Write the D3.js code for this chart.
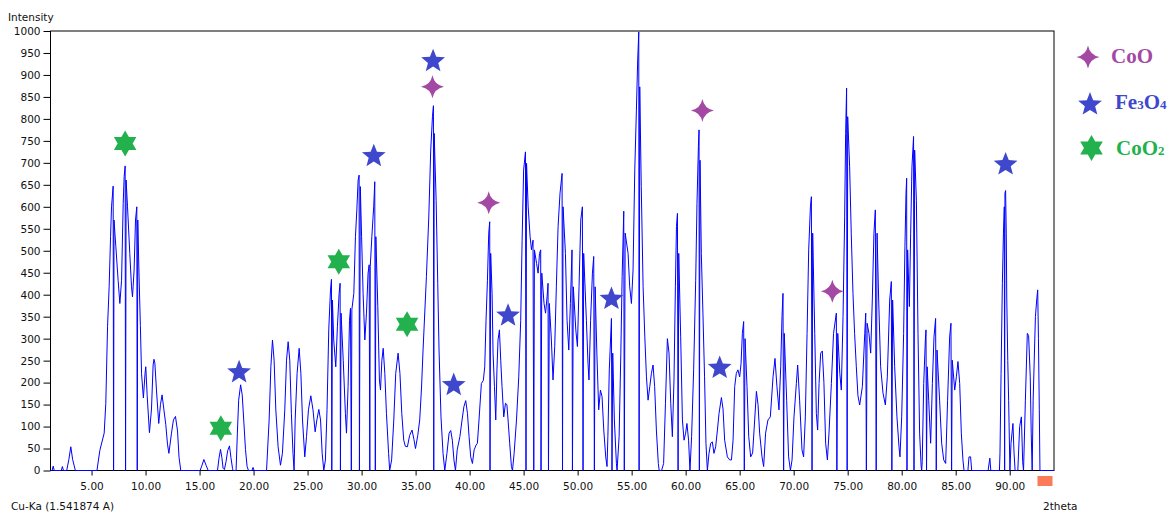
<!DOCTYPE html>
<html>
<head>
<meta charset="utf-8">
<script src="https://cdn.jsdelivr.net/npm/d3@7/dist/d3.min.js"></script>
<style>
  html, body { margin: 0; padding: 0; background: #fff; }
  svg { display: block; }
  .axis text { font-family: "DejaVu Sans", sans-serif; font-size: 10.5px; fill: #111; }
  .axis line { stroke: #000; }
  .lbl { font-family: "DejaVu Sans", sans-serif; font-size: 10.5px; fill: #111; }
  .leg { font-family: "Liberation Serif", "Times New Roman", serif; font-weight: bold; font-size: 21px; }
</style>
</head>
<body>
<svg id="chart" width="1173" height="514"></svg>
<script>
// ---- data (2theta, intensity) ----
const xrdPattern = [
  [1.2,0],[1.35,0],[1.45,10],[1.55,0],[2.2,0],[2.3,9],[2.4,0],[2.7,0],[2.9,25],[3.08,54],[3.25,25],[3.5,0],[5.5,0],
  [5.77,46],[6.17,85],[6.32,153],[6.48,327],[6.63,418],[6.76,532],[6.85,600],[7.0,647],[7.04,0],[7.08,570],[7.25,509],
  [7.46,433],[7.62,380],[7.78,433],[7.93,608],[8.02,669],[8.11,693],[8.15,0],[8.2,661],[8.33,600],[8.54,494],[8.7,418],
  [8.79,395],[8.94,456],[9.07,570],[9.19,600],[9.23,0],[9.28,570],[9.4,440],[9.52,330],[9.63,220],[9.8,165],[9.95,220],
  [10.02,236],[10.15,170],[10.36,86],[10.55,140],[10.7,240],[10.78,253],[10.86,245],[11.01,183],[11.22,107],[11.38,150],
  [11.53,172],[11.69,140],[11.87,105],[12.03,60],[12.16,39],[12.4,85],[12.58,115],[12.77,123],[12.96,90],[13.1,30],
  [13.26,0],[15.05,0],[15.2,10],[15.4,25],[15.6,12],[15.8,0],[16.66,0],[16.8,28],[16.94,48],[17.06,30],[17.18,5],
  [17.3,2],[17.45,20],[17.6,45],[17.77,56],[17.9,30],[18.05,5],[18.1,0],[18.38,0],[18.5,85],[18.62,160],[18.8,195],
  [18.95,172],[19.1,110],[19.25,48],[19.4,9],[19.53,0],[19.85,0],[19.95,7],[20.05,0],[21.2,0],
  [21.44,115],[21.6,236],[21.75,297],[21.9,251],[22.06,138],[22.27,54],[22.49,12],[22.67,39],[22.89,138],[23.05,251],
  [23.2,293],[23.35,251],[23.5,130],[23.65,39],[23.75,0],[23.85,115],[24.03,221],[24.22,278],[24.38,221],[24.53,115],
  [24.74,31],[24.9,77],[25.08,138],[25.3,170],[25.5,138],[25.7,88],[25.86,115],[26.04,139],[26.2,115],[26.35,39],
  [26.5,0],[26.65,24],[26.8,138],[26.96,320],[27.12,411],[27.21,435],[27.24,0],[27.3,388],[27.42,297],[27.61,236],
  [27.76,327],[27.92,403],[28.01,426],[28.04,0],[28.1,358],[28.3,251],[28.5,130],[28.6,85],[28.75,191],[28.88,342],
  [28.97,369],[29.05,0],[29.1,366],[29.28,403],[29.43,532],[29.56,593],[29.68,661],[29.77,672],[29.8,0],[29.88,646],
  [30.0,532],[30.14,403],[30.3,297],[30.45,358],[30.6,449],[30.7,468],[30.76,0],[30.8,464],[30.95,532],[31.12,600],
  [31.22,657],[31.27,0],[31.32,532],[31.5,373],[31.65,206],[31.75,183],[31.88,251],[32.0,278],[32.15,221],[32.3,130],
  [32.5,39],[32.6,0],[32.78,24],[32.98,115],[33.16,221],[33.38,267],[33.55,221],[33.72,130],[33.9,69],[34.05,55],
  [34.24,54],[34.45,80],[34.67,92],[34.85,70],[34.99,50],[35.2,80],[35.38,115],[35.55,190],[35.69,274],[36.0,441],
  [36.22,577],[36.4,729],[36.56,805],[36.65,830],[36.68,0],[36.72,767],[36.9,615],[37.05,426],[37.17,274],[37.35,122],
  [37.54,39],[37.7,0],[37.9,39],[38.1,85],[38.25,91],[38.4,69],[38.55,24],[38.69,0],[38.85,47],[39.1,77],[39.3,115],
  [39.47,145],[39.64,159],[39.8,130],[39.95,77],[40.1,31],[40.26,16],[40.42,47],[40.6,58],[40.72,62],[40.87,115],
  [41.09,198],[41.27,205],[41.4,236],[41.52,342],[41.65,433],[41.77,540],[41.86,566],[41.89,0],[41.95,494],[42.08,403],
  [42.17,267],[42.3,191],[42.42,115],[42.53,229],[42.63,297],[42.76,320],[42.88,251],[43.0,191],[43.16,122],[43.32,153],
  [43.45,150],[43.56,115],[43.71,62],[43.87,9],[43.97,0],[44.12,39],[44.34,115],[44.55,213],[44.73,342],[44.86,524],
  [45.0,684],[45.17,725],[45.22,0],[45.27,699],[45.42,600],[45.6,532],[45.73,502],[45.87,524],[45.94,0],[46.0,502],
  [46.2,471],[46.34,449],[46.47,494],[46.58,502],[46.61,0],[46.68,449],[46.89,380],[47.03,358],[47.17,395],[47.26,426],
  [47.3,0],[47.38,380],[47.57,297],[47.72,206],[47.88,282],[48.03,418],[48.19,555],[48.37,631],[48.56,676],[48.6,0],
  [48.65,600],[48.87,494],[49.02,342],[49.18,274],[49.33,380],[49.48,502],[49.52,0],[49.6,418],[49.83,320],[49.98,282],
  [50.13,418],[50.29,570],[50.44,600],[50.5,0],[50.56,494],[50.81,342],[50.96,244],[51.05,206],[51.2,342],[51.37,449],
  [51.49,487],[51.55,0],[51.62,418],[51.78,267],[51.95,138],[52.11,183],[52.26,168],[52.42,92],[52.6,31],[52.72,9],
  [52.8,77],[52.93,229],[53.13,346],[53.18,0],[53.25,267],[53.4,115],[53.59,16],[53.65,0],[53.84,77],[54.0,267],
  [54.12,441],[54.27,590],[54.32,0],[54.4,540],[54.67,494],[54.82,418],[54.98,380],[55.13,456],[55.29,684],[55.44,820],
  [55.56,934],[55.66,998],[55.69,0],[55.75,873],[55.89,646],[56.06,418],[56.22,304],[56.37,213],[56.52,160],[56.68,191],
  [56.83,221],[56.98,240],[57.13,191],[57.29,92],[57.47,16],[57.55,0],[57.77,0],[57.96,16],[58.13,153],[58.31,300],
  [58.46,267],[58.62,153],[58.77,77],[58.92,206],[59.05,418],[59.15,555],[59.24,585],[59.3,0],[59.36,494],[59.54,304],
  [59.7,115],[59.85,69],[60.0,85],[60.12,107],[60.27,69],[60.4,0],[60.55,77],[60.74,229],[60.93,433],[61.05,608],
  [61.18,737],[61.24,775],[61.27,0],[61.33,706],[61.45,494],[61.6,358],[61.75,213],[61.88,62],[62.01,0],[62.16,39],
  [62.32,62],[62.47,65],[62.62,39],[62.78,54],[62.94,92],[63.09,130],[63.31,166],[63.46,140],[63.61,69],[63.86,31],
  [64.08,24],[64.24,24],[64.39,69],[64.54,191],[64.69,221],[64.84,229],[65.0,213],[65.13,244],[65.25,312],[65.37,339],
  [65.43,0],[65.5,300],[65.68,191],[65.84,77],[66.02,31],[66.2,40],[66.39,115],[66.55,180],[66.7,150],[66.85,85],
  [67.07,31],[67.22,9],[67.4,85],[67.62,115],[67.84,122],[68.09,213],[68.27,255],[68.45,191],[68.64,138],[68.8,236],
  [68.92,350],[69.01,403],[69.07,0],[69.13,312],[69.35,160],[69.53,31],[69.7,0],[69.85,24],[70.03,122],[70.25,198],
  [70.37,240],[70.55,160],[70.77,47],[70.92,31],[71.08,122],[71.24,312],[71.39,502],[71.55,600],[71.64,623],[71.7,0],
  [71.76,540],[71.95,312],[72.1,130],[72.22,92],[72.35,198],[72.5,267],[72.65,272],[72.8,200],[72.96,62],[73.12,24],
  [73.27,85],[73.49,198],[73.69,312],[73.95,358],[74.0,0],[74.08,312],[74.27,221],[74.41,183],[74.57,350],[74.72,577],
  [74.81,767],[74.9,870],[74.95,0],[75.0,805],[75.18,691],[75.33,540],[75.49,403],[75.64,312],[75.8,236],[75.95,170],
  [76.11,149],[76.36,191],[76.58,312],[76.67,358],[76.73,0],[76.8,335],[76.97,312],[77.13,267],[77.28,388],[77.43,540],
  [77.56,593],[77.64,0],[77.72,540],[77.87,388],[78.05,236],[78.27,176],[78.49,149],[78.67,213],[78.89,388],[79.04,430],
  [79.09,0],[79.16,388],[79.35,236],[79.56,122],[79.75,54],[79.84,31],[80.0,122],[80.18,312],[80.3,509],[80.4,631],
  [80.46,665],[80.49,0],[80.55,502],[80.71,373],[80.83,540],[80.95,691],[81.1,760],[81.14,0],[81.2,729],[81.36,615],
  [81.51,312],[81.66,85],[81.8,10],[81.85,0],[81.9,20],[82.04,198],[82.19,297],[82.25,320],[82.3,0],[82.36,236],
  [82.5,160],[82.68,62],[82.84,198],[82.99,304],[83.14,346],[83.2,0],[83.27,274],[83.51,160],[83.7,62],[83.89,24],
  [84.07,16],[84.25,160],[84.44,304],[84.56,335],[84.62,0],[84.68,251],[84.91,183],[85.06,213],[85.21,248],[85.37,198],
  [85.52,85],[85.67,24],[85.77,0],[86.13,0],[86.23,31],[86.38,31],[86.48,0],[88.0,0],[88.16,28],[88.25,0],[89.05,0],
  [89.1,40],[89.2,221],[89.32,426],[89.42,540],[89.5,600],[89.53,0],[89.56,631],[89.62,637],[89.68,540],[89.73,388],
  [89.82,250],[89.9,160],[90.02,0],[90.12,62],[90.3,107],[90.4,40],[90.5,0],[90.75,0],[90.92,100],[91.08,122],[91.2,20],
  [91.28,0],[91.45,160],[91.63,312],[91.75,307],[91.9,213],[91.99,85],[92.08,0],[92.17,160],[92.38,350],[92.5,388],
  [92.59,411],[92.66,300],[92.74,138],[92.8,0],[94.1,0]
];

const coOMarkers   = [[36.56,873],[41.77,609],[61.55,819],[73.58,408]];
const fe3o4Markers = [[18.66,226],[31.13,718],[36.62,934],[38.53,197],[43.56,355],[53.13,393],[63.15,236],[89.62,699]];
const coO2Markers  = [[8.11,744],[16.97,96],[27.89,475],[34.21,333]];

const yTicks = d3.range(0, 1001, 50);
const xTicks = d3.range(5, 91, 5);

const colors = { coO: "#A349A4", fe3o4: "#3F48CC", coO2: "#22B14C", line: "#0000ff" };

// ---- layout ----
const svg = d3.select("#chart");
const x = d3.scaleLinear().domain([1.2, 94.1]).range([50.5, 1054]);
const y = d3.scaleLinear().domain([0, 1000]).range([470.5, 31]);

// frame
svg.append("rect").attr("x", 50.5).attr("y", 31).attr("width", 1054 - 50.5).attr("height", 470.5 - 31)
  .attr("fill", "none").attr("stroke", "#000").attr("stroke-width", 1);

const gy = svg.append("g").attr("class", "axis").attr("transform", "translate(50.5,0)")
  .call(d3.axisLeft(y).tickValues(yTicks).tickSize(7).tickPadding(3).tickFormat(d3.format("d")));
gy.select(".domain").remove();

const gx = svg.append("g").attr("class", "axis").attr("transform", "translate(0,470.5)")
  .call(d3.axisBottom(x).tickValues(xTicks).tickSize(5).tickPadding(7).tickFormat(d3.format(".2f")));
gx.select(".domain").remove();

// pattern line
const line = d3.line().x(d => x(d[0])).y(d => y(d[1]));
svg.append("path").datum(xrdPattern).attr("d", line)
  .attr("fill", "none").attr("stroke", colors.line).attr("stroke-width", 1);

// marker shapes
function starPath(n, R, r) {
  const pts = [];
  for (let i = 0; i < 2 * n; i++) {
    const a = -Math.PI / 2 + i * Math.PI / n;
    const rad = i % 2 ? r : R;
    pts.push([rad * Math.cos(a), rad * Math.sin(a)]);
  }
  return "M" + pts.map(p => p[0].toFixed(2) + "," + p[1].toFixed(2)).join("L") + "Z";
}
function sparklePath(R, c) {
  return `M0,${-R} Q${c},${-c} ${R},0 Q${c},${c} 0,${R} Q${-c},${c} ${-R},0 Q${-c},${-c} 0,${-R} Z`;
}
const shapeCoO = sparklePath(11.5, 1.9);
const shapeFe = starPath(5, 12.5, 5.4);
const shapeCoO2 = starPath(6, 13, 7.5);

function drawMarkers(data, shape, color, dy) {
  svg.append("g").selectAll("path").data(data).join("path")
    .attr("d", shape)
    .attr("transform", d => `translate(${x(d[0])},${y(d[1]) + dy})`)
    .attr("fill", color);
}
drawMarkers(coOMarkers, shapeCoO, colors.coO, 0);
drawMarkers(fe3o4Markers, shapeFe, colors.fe3o4, 1.2);
drawMarkers(coO2Markers, shapeCoO2, colors.coO2, 0);

// legend
const legend = svg.append("g");
legend.append("path").attr("d", shapeCoO).attr("transform", "translate(1088,57)").attr("fill", colors.coO);
legend.append("path").attr("d", shapeFe).attr("transform", "translate(1090,104.5)").attr("fill", colors.fe3o4);
legend.append("path").attr("d", shapeCoO2).attr("transform", "translate(1091.5,148)").attr("fill", colors.coO2);

legend.append("text").attr("class", "leg").attr("x", 1111).attr("y", 63).attr("fill", colors.coO).text("CoO");
const tFe = legend.append("text").attr("class", "leg").attr("x", 1115).attr("y", 109).attr("fill", colors.fe3o4);
tFe.append("tspan").text("Fe");
tFe.append("tspan").attr("font-size", "13px").text("3");
tFe.append("tspan").text("O");
tFe.append("tspan").attr("font-size", "13px").text("4");
const tCo2 = legend.append("text").attr("class", "leg").attr("x", 1116).attr("y", 155).attr("fill", colors.coO2);
tCo2.append("tspan").text("CoO");
tCo2.append("tspan").attr("font-size", "13px").text("2");

// axis captions
svg.append("text").attr("class", "lbl").attr("x", 8).attr("y", 21).text("Intensity");
svg.append("text").attr("class", "lbl").attr("x", 11).attr("y", 510).text("Cu-Ka (1.541874 A)");
svg.append("text").attr("class", "lbl").attr("x", 1043).attr("y", 510).text("2theta");
svg.append("rect").attr("x", 1037.5).attr("y", 476).attr("width", 15).attr("height", 10).attr("fill", "#fa7a5a");
</script>
</body>
</html>
